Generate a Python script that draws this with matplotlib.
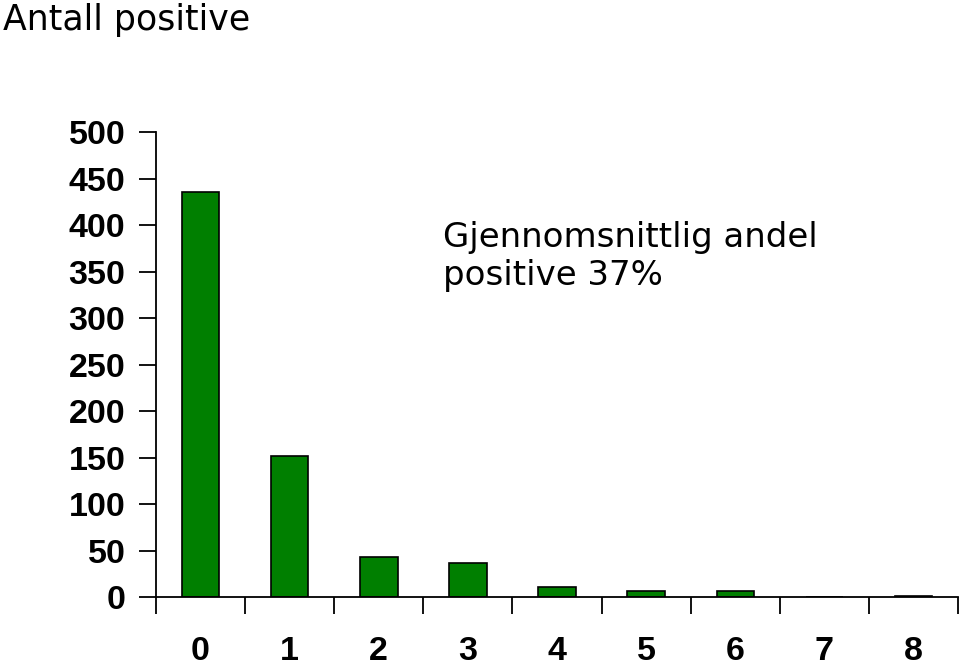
import matplotlib
matplotlib.use("Agg")
import matplotlib.pyplot as plt
import numpy as np

# data
categories = ["0", "1", "2", "3", "4", "5", "6", "7", "8"]
counts = [435, 152, 43, 37, 11, 6, 6, 0, 1]
yticks = [0, 50, 100, 150, 200, 250, 300, 350, 400, 450, 500]

fig = plt.figure(figsize=(9.6, 6.66), dpi=100)
ax = fig.add_axes([0.1625, 0.1036, 0.8355, 0.6982])

x = np.arange(len(categories))
ax.bar(x, counts, width=0.42, color="#007f00", edgecolor="black", linewidth=1.2)

ax.set_xlim(-0.5, len(categories) - 0.5)
ax.set_ylim(0, 500)
ax.set_yticks(yticks)
ax.set_yticklabels([str(t) for t in yticks], fontsize=24.5, fontweight="bold",
                   family="Liberation Sans")

# category labels centred, ticks between the categories
ax.set_xticks(x)
ax.set_xticklabels(categories, fontsize=24.5, fontweight="bold", family="Liberation Sans")
ax.tick_params(axis="x", which="major", length=0, pad=28)
ax.set_xticks(np.arange(len(categories) + 1) - 0.5, minor=True)
ax.tick_params(axis="x", which="minor", length=12, width=1.3, direction="out")
ax.tick_params(axis="y", length=12, width=1.3, direction="out", pad=10)

for s in ["top", "right"]:
    ax.spines[s].set_visible(False)
ax.spines["left"].set_linewidth(1.3)
ax.spines["bottom"].set_linewidth(1.3)

fig.text(0.003, 0.97, "Antall positive", fontsize=25, family="DejaVu Sans", va="center")
ax.text(0.358, 0.733, "Gjennomsnittlig andel\npositive 37%", transform=ax.transAxes,
        fontsize=24.5, family="DejaVu Sans", va="center", ha="left", linespacing=1.2)

fig.savefig("out.png", dpi=100)
